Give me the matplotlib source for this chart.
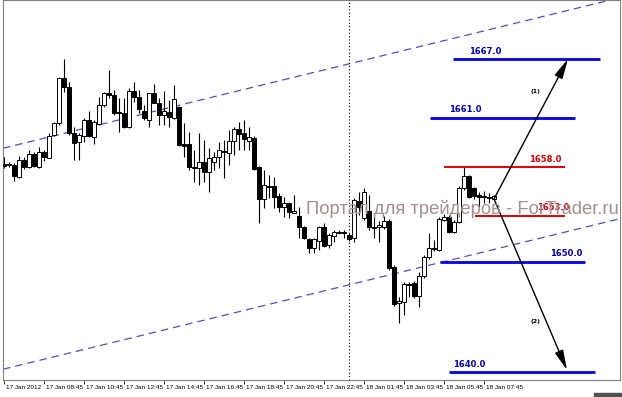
import numpy as np
import matplotlib
matplotlib.use("Agg")
import matplotlib.pyplot as plt
from matplotlib.patches import Rectangle
import matplotlib.transforms as mtransforms

# ---------------- data (M15 candles, 17-18 Jan 2012) ----------------
opens = [1656.6, 1656.6, 1656.5, 1655.3, 1657.0, 1656.3, 1657.6, 1656.3, 1657.8, 1657.2,
         1659.5, 1660.7, 1665.2, 1664.3, 1659.7, 1658.8, 1659.4, 1661.0, 1659.3, 1660.6,
         1662.5, 1663.7, 1663.5, 1661.8, 1661.7, 1660.3, 1663.9, 1663.3, 1661.9, 1661.0,
         1663.7, 1662.7, 1661.5, 1661.8, 1661.2, 1662.3, 1658.6, 1658.6, 1656.3, 1656.2,
         1656.8, 1655.8, 1656.8, 1657.3, 1657.9, 1657.7, 1658.9, 1660.1, 1659.7, 1658.9,
         1659.2, 1656.3, 1653.1, 1654.4, 1654.4, 1653.4, 1652.3, 1652.7, 1651.7, 1651.4,
         1650.3, 1649.1, 1648.2, 1648.9, 1650.3, 1648.5, 1649.4, 1649.8, 1649.8, 1649.5,
         1649.2, 1652.9, 1651.2, 1651.9, 1650.3, 1650.3, 1650.3, 1650.9, 1646.3, 1642.7,
         1642.8, 1644.6, 1644.7, 1643.4, 1645.4, 1647.3, 1648.1, 1648.0, 1651.0, 1651.3,
         1649.8, 1650.8, 1654.2, 1655.4, 1654.2, 1653.5, 1653.4, 1653.3, 1653.1]
highs = [1657.3, 1656.8, 1656.7, 1657.4, 1657.3, 1658.0, 1657.8, 1658.3, 1658.0, 1659.7,
         1660.8, 1665.3, 1667.1, 1664.8, 1660.3, 1659.7, 1661.2, 1661.9, 1661.0, 1663.3,
         1663.8, 1666.0, 1664.0, 1663.2, 1663.2, 1664.2, 1664.8, 1664.0, 1662.5, 1663.7,
         1664.6, 1663.2, 1663.9, 1663.0, 1664.5, 1662.4, 1660.7, 1659.8, 1658.0, 1659.7,
         1659.0, 1658.2, 1657.8, 1658.8, 1659.0, 1660.0, 1660.3, 1660.8, 1661.0, 1660.3,
         1659.4, 1656.4, 1656.0, 1655.5, 1655.3, 1653.7, 1653.3, 1652.8, 1653.5, 1652.3,
         1650.4, 1649.2, 1649.2, 1650.4, 1650.7, 1649.7, 1650.0, 1650.0, 1650.0, 1649.7,
         1653.2, 1653.8, 1654.2, 1653.5, 1651.3, 1650.9, 1651.4, 1651.1, 1646.5, 1643.3,
         1644.8, 1644.8, 1644.9, 1645.8, 1647.5, 1649.7, 1649.0, 1651.3, 1651.6, 1651.5,
         1651.0, 1654.4, 1656.3, 1655.5, 1654.3, 1653.8, 1653.9, 1653.7, 1653.5]
lows = [1656.2, 1656.3, 1654.9, 1655.2, 1656.1, 1656.2, 1656.3, 1656.2, 1656.9, 1657.2,
        1659.4, 1660.5, 1663.8, 1659.5, 1657.0, 1657.0, 1658.8, 1659.3, 1658.6, 1660.5,
        1662.3, 1663.2, 1661.5, 1659.8, 1660.2, 1660.2, 1662.8, 1661.7, 1661.0, 1660.3,
        1662.7, 1660.5, 1660.5, 1660.3, 1661.1, 1658.4, 1657.3, 1656.0, 1654.8, 1654.5,
        1654.8, 1653.8, 1656.0, 1656.2, 1655.2, 1656.5, 1657.5, 1658.0, 1658.0, 1658.0,
        1656.0, 1650.7, 1652.2, 1653.2, 1652.2, 1651.8, 1651.3, 1651.2, 1651.7, 1649.2,
        1649.1, 1647.7, 1647.7, 1648.0, 1648.3, 1648.2, 1648.8, 1649.7, 1649.2, 1648.9,
        1648.8, 1651.5, 1651.0, 1650.0, 1649.2, 1648.8, 1650.1, 1646.0, 1642.4, 1640.7,
        1641.5, 1643.3, 1643.2, 1642.3, 1645.2, 1647.1, 1647.9, 1647.9, 1650.9, 1649.7,
        1649.7, 1650.7, 1654.0, 1653.2, 1653.1, 1652.3, 1652.7, 1652.7, 1653.0]
closes = [1656.4, 1656.55, 1655.4, 1657.0, 1656.3, 1657.6, 1656.4, 1657.8, 1657.3, 1659.4,
          1660.7, 1665.2, 1664.3, 1659.7, 1658.7, 1659.5, 1661.0, 1659.4, 1660.8, 1662.5,
          1663.7, 1663.5, 1661.7, 1661.7, 1660.3, 1663.9, 1663.3, 1662.1, 1661.2, 1663.7,
          1662.7, 1661.5, 1661.9, 1661.3, 1663.1, 1658.5, 1658.4, 1656.3, 1656.2, 1656.8,
          1655.8, 1657.2, 1657.3, 1658.0, 1657.8, 1658.9, 1660.1, 1659.6, 1659.1, 1659.3,
          1656.1, 1653.1, 1654.5, 1654.35, 1653.3, 1652.3, 1652.7, 1651.8, 1651.9, 1650.3,
          1649.2, 1648.2, 1649.1, 1650.3, 1648.4, 1649.5, 1649.8, 1649.75, 1649.75, 1649.1,
          1653.0, 1652.3, 1653.8, 1650.3, 1650.25, 1650.45, 1650.9, 1646.2, 1642.6, 1642.95,
          1644.6, 1644.55, 1643.4, 1645.4, 1647.3, 1648.2, 1648.2, 1651.1, 1651.3, 1649.8,
          1650.8, 1654.2, 1655.4, 1653.3, 1653.4, 1653.3, 1653.35, 1653.25, 1653.4]

tick_idx = [0, 8, 16, 24, 32, 40, 48, 56, 64, 72, 80, 88, 96]
tick_labels = ["17 Jan 2012", "17 Jan 08:45", "17 Jan 10:45", "17 Jan 12:45",
               "17 Jan 14:45", "17 Jan 16:45", "17 Jan 18:45", "17 Jan 20:45",
               "17 Jan 22:45", "18 Jan 01:45", "18 Jan 03:45", "18 Jan 05:45",
               "18 Jan 07:45"]

# target levels: drawn price, label text, x-extent (candle index)
level_y = [1667.1, 1661.2, 1656.3, 1651.4, 1646.8, 1635.8]
level_text = ["1667.0", "1661.0", "1658.0", "1653.0", "1650.0", "1640.0"]
level_x0 = [89.8, 85.2, 88.0, 94.2, 87.2, 89.0]
level_x1 = [119.2, 114.2, 112.2, 112.2, 116.2, 118.2]
level_lab_x = [93.0, 89.0, 105.0, 106.6, 109.2, 89.8]
level_kind = ["target", "target", "resist", "resist", "target", "target"]

# channel lines (two points each)
channel_upper = [(0, 1658.2), (100, 1670.4)]
channel_lower = [(0, 1636.1), (100, 1648.3)]

# scenario arrows
arrow_start = (98, 1653.1)
arrow_up_end = (112.8, 1667.1)
arrow_down_end = (112.6, 1636.0)
scenario_labels = ["(1)", "(2)"]
scenario_pos = [(106.2, 1663.8), (106.2, 1640.8)]

separator_idx = 69

# ---------------- drawing ----------------
W, H = 622, 397
fig = plt.figure(figsize=(W / 100, H / 100), dpi=100)
fig.patch.set_facecolor("white")
ax = fig.add_axes([3 / W, 17 / H, 617 / W, 380 / H])
ax.set_facecolor("white")

o = np.array(opens); h = np.array(highs); l = np.array(lows); c = np.array(closes)
idx = np.arange(len(o))
up = c >= o

ax.vlines(idx, l, h, color="black", lw=0.8, zorder=3)
bottoms = np.minimum(o, c)
heights = np.maximum(np.abs(c - o), 0.04)
ax.bar(idx[up], heights[up], bottom=bottoms[up], width=0.7,
       facecolor="white", edgecolor="black", linewidth=0.7, zorder=4)
ax.bar(idx[~up], heights[~up], bottom=bottoms[~up], width=0.7,
       facecolor="black", edgecolor="black", linewidth=0.7, zorder=4)

# channel
for pts in (channel_upper, channel_lower):
    ax.axline(pts[0], pts[1], color="#5050bb", lw=0.9, ls=(0, (6, 4)), zorder=2)

# separator
ax.axvline(separator_idx, color="black", lw=0.8, ls=(0, (1, 2)), zorder=2)

# levels
for y, t, x0, x1, lx, kind in zip(level_y, level_text, level_x0, level_x1,
                                  level_lab_x, level_kind):
    if kind == "target":
        lc, tc, lw = "#0000e0", "#0000a8", 2.0
    else:
        lc, tc, lw = "#e00000", "#cc0000", 1.4
    ax.plot([x0, x1], [y, y], color=lc, lw=lw, solid_capstyle="butt", zorder=5)
    ax.text(lx, y + 0.35, t, color=tc, fontsize=6, fontweight="bold",
            ha="left", va="bottom", zorder=6)

# arrows
for end in (arrow_up_end, arrow_down_end):
    ax.annotate("", xy=end, xytext=arrow_start,
                arrowprops=dict(arrowstyle="-|>,head_length=1.0,head_width=0.22",
                                color="black", lw=1.0, mutation_scale=12,
                                shrinkA=0, shrinkB=0), zorder=6)
for t, (x, y) in zip(scenario_labels, scenario_pos):
    ax.text(x, y, t, fontsize=4.5, fontweight="bold", ha="center", va="center",
            color="black", zorder=6)

ax.set_xlim(-0.2, 123.2)
ax.set_ylim(1635.0, 1673.0)

# x axis ticks & labels (left-aligned, MetaTrader style)
ax.set_yticks([])
ax.set_xticks(tick_idx)
ax.set_xticklabels([])
ax.tick_params(axis="x", direction="out", length=3, width=0.7, color="#404040")
trans = mtransforms.blended_transform_factory(ax.transData, ax.transAxes)
for x, t in zip(tick_idx, tick_labels):
    ax.text(x + 0.35, -0.012, t, transform=trans, fontsize=4.6, ha="left",
            va="top", color="black", family="Liberation Sans")

for s in ax.spines.values():
    s.set_color("#808080")
    s.set_linewidth(0.8)

# watermark
fig.text(306 / W, 1 - 209 / H, "Портал для трейдеров - ForTrader.ru",
         fontsize=13.2, color="#a38f8f", ha="left", va="center",
         family="Liberation Sans", zorder=10)

# scrollbar stub
fig.add_artist(Rectangle((594 / W, 1 / H), 28 / W, 3 / H, color="#505050",
                         transform=fig.transFigure))

fig.savefig("out.png", dpi=100, facecolor="white")
